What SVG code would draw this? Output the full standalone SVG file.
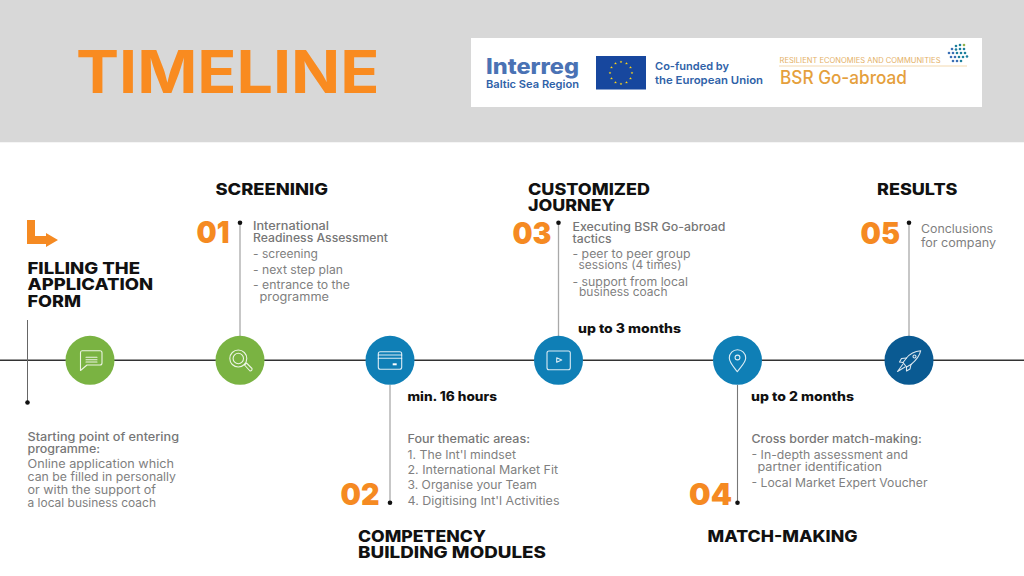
<svg xmlns="http://www.w3.org/2000/svg" xmlns:xlink="http://www.w3.org/1999/xlink" width="1024" height="576" viewBox="0 0 1024 576">
<style>
text{font-family:"Inter","Open Sans","Liberation Sans",sans-serif}
.h{font-size:16px;font-weight:800;fill:#111}
.num{font-size:30px;font-weight:900;fill:#f58a22}
.lead{font-size:11.5px;font-weight:500;fill:#767676}
.b{font-size:11.5px;font-weight:400;fill:#7f7f7f}
.dur{font-size:12.5px;font-weight:800;fill:#111}
.node{stroke:none}
.ic{fill:none;stroke:#fff;stroke-width:1.1;stroke-linejoin:round;stroke-linecap:round;opacity:.85}
.v{stroke:#a9a9a9;stroke-width:1.3;fill:none}
.dot{fill:#111}
.lg{font-weight:600;fill:#2f62a8}
.pd{fill:#1c7f9c}
.pe{fill:#3a6fb5}
</style>
<defs>
<polygon id="star" points="0,-1.4 .4,-.45 1.35,-.45 .6,.15 .85,1.1 0,.55 -.85,1.1 -.6,.15 -1.35,-.45 -.4,-.45" fill="#ffd617"/>
</defs>
<rect x="0" y="0" width="1024" height="142.5" fill="#d8d8d8"/>
<rect x="0" y="142.5" width="1024" height="433.5" fill="#fff"/>
<text id="title" x="76" y="93.3" font-size="58.5" font-weight="700" fill="#f98b20" textLength="303.5" lengthAdjust="spacingAndGlyphs">TIMELINE</text>

<g id="logos">
<rect x="471" y="38" width="511" height="69" fill="#fff"/>
<text x="486" y="74" font-size="21" font-weight="800" fill="#4a72b4" textLength="93" lengthAdjust="spacingAndGlyphs">Interreg</text>
<text class="lg" x="486" y="87.5" font-size="10.5" font-weight="700" textLength="93" lengthAdjust="spacingAndGlyphs">Baltic Sea Region</text>
<rect x="596" y="56" width="50" height="33.5" fill="#17479e"/>
<g>
<use href="#star" x="621" y="62"/><use href="#star" x="626.5" y="63.5"/><use href="#star" x="630.5" y="67.5"/><use href="#star" x="632" y="73"/><use href="#star" x="630.5" y="78.5"/><use href="#star" x="626.5" y="82.5"/><use href="#star" x="621" y="84"/><use href="#star" x="615.5" y="82.5"/><use href="#star" x="611.5" y="78.5"/><use href="#star" x="610" y="73"/><use href="#star" x="611.5" y="67.5"/><use href="#star" x="615.5" y="63.5"/>
</g>
<text class="lg" x="655" y="70" font-size="11" textLength="74" lengthAdjust="spacingAndGlyphs">Co-funded by</text>
<text class="lg" x="655" y="84" font-size="11" textLength="108" lengthAdjust="spacingAndGlyphs">the European Union</text>
<text x="779.5" y="62.5" font-size="7" fill="#e4b066" textLength="161" lengthAdjust="spacingAndGlyphs">RESILIENT ECONOMIES AND COMMUNITIES</text>
<line x1="779" y1="66" x2="967" y2="66" stroke="#f0cf9c" stroke-width=".8"/>
<text x="780" y="84" font-size="18" font-weight="500" fill="#e5a03c" textLength="127" lengthAdjust="spacingAndGlyphs">BSR Go-abroad</text>
<g>
<circle class="pd" cx="956" cy="46" r="1.3"/><circle class="pd" cx="960" cy="45" r="1.3"/><circle cx="964" cy="45" r="1.3" fill="#8fb04a"/>
<circle class="pe" cx="952" cy="49" r="1.3"/><circle class="pd" cx="956" cy="49.5" r="1.3"/><circle class="pd" cx="960" cy="49" r="1.3"/><circle class="pd" cx="964" cy="49" r="1.3"/>
<circle class="pe" cx="949" cy="53" r="1.3"/><circle class="pe" cx="953" cy="53" r="1.3"/><circle class="pd" cx="957" cy="53" r="1.3"/><circle class="pd" cx="961" cy="53" r="1.3"/><circle class="pd" cx="965" cy="53" r="1.3"/>
<circle class="pe" cx="951" cy="57" r="1.3"/><circle class="pe" cx="955" cy="57" r="1.3"/><circle class="pd" cx="959" cy="57" r="1.3"/><circle class="pd" cx="963" cy="57" r="1.3"/><circle class="pd" cx="967" cy="56.5" r="1.3"/>
<circle class="pe" cx="953" cy="61" r="1.3"/><circle class="pe" cx="957" cy="61" r="1.3"/><circle class="pd" cx="961" cy="61" r="1.3"/>
</g>
</g>

<g id="connectors">
<line x1="0" y1="360.3" x2="1024" y2="360.3" stroke="#333" stroke-width="1.4"/>
<line x1="27.5" y1="320" x2="27.5" y2="402" stroke="#666" stroke-width="1"/>
<circle class="dot" cx="27.5" cy="402.5" r="2.3"/>
<line class="v" x1="240" y1="223" x2="240" y2="336"/>
<circle class="dot" cx="240" cy="222.7" r="2.3"/>
<line class="v" x1="390" y1="385" x2="390" y2="503"/>
<circle class="dot" cx="390" cy="502.8" r="2.3"/>
<line class="v" x1="558.5" y1="223" x2="558.5" y2="336"/>
<circle class="dot" cx="558.5" cy="222.7" r="2.3"/>
<line x1="737.5" y1="385" x2="737.5" y2="503" stroke="#777" stroke-width="1.1"/>
<circle class="dot" cx="737.5" cy="502.8" r="2.3"/>
<line class="v" x1="909" y1="223" x2="909" y2="336"/>
<circle class="dot" cx="909" cy="222.7" r="2.3"/>
</g>

<g id="step-start">
<path d="M27 220H35V236H46V233L58 240L46 247V244H27Z" fill="#f58a22"/>
<text class="h" x="27.5" y="273.5" textLength="112.5" lengthAdjust="spacingAndGlyphs">FILLING THE</text>
<text class="h" x="27.5" y="290" textLength="125.5" lengthAdjust="spacingAndGlyphs">APPLICATION</text>
<text class="h" x="27.5" y="306.7" textLength="53.5" lengthAdjust="spacingAndGlyphs">FORM</text>
<circle class="node" cx="90" cy="360.3" r="24.5" fill="#7ab342"/>
<path class="ic" d="M82 350.7H100Q102 350.7 102 352.7V363Q102 365 100 365H87L80.5 370.5V352.7Q80.5 350.7 82 350.7Z"/>
<path class="ic" d="M86 357.3H97M86 359.7H97M86 362H97"/>
<text class="lead" x="27.5" y="441.3" textLength="151.5" lengthAdjust="spacingAndGlyphs">Starting point of entering</text>
<text class="lead" x="27.5" y="452.7" textLength="72.5" lengthAdjust="spacingAndGlyphs">programme:</text>
<text class="b" x="27.5" y="468" textLength="146.5" lengthAdjust="spacingAndGlyphs">Online application which</text>
<text class="b" x="27.5" y="481" textLength="148.5" lengthAdjust="spacingAndGlyphs">can be filled in personally</text>
<text class="b" x="27.5" y="494" textLength="128.5" lengthAdjust="spacingAndGlyphs">or with the support of</text>
<text class="b" x="27.5" y="506.7" textLength="128.5" lengthAdjust="spacingAndGlyphs">a local business coach</text>
</g>

<g id="step-01">
<text class="h" x="215.5" y="194.7" textLength="112.5" lengthAdjust="spacingAndGlyphs">SCREENINIG</text>
<text class="num" x="196.5" y="243" textLength="33" lengthAdjust="spacingAndGlyphs">01</text>
<circle class="node" cx="240" cy="360.3" r="24.5" fill="#7ab342"/>
<circle class="ic" cx="238.3" cy="358.5" r="8.5"/>
<circle class="ic" cx="238.3" cy="358.5" r="5.2"/>
<path class="ic" d="M244.5 365L246.5 363L252 368.5Q252.5 370.5 250 371Z"/>
<text class="lead" x="253" y="230" textLength="76" lengthAdjust="spacingAndGlyphs">International</text>
<text class="lead" x="253" y="242" textLength="135" lengthAdjust="spacingAndGlyphs">Readiness Assessment</text>
<text class="b" x="253" y="258" textLength="65" lengthAdjust="spacingAndGlyphs">- screening</text>
<text class="b" x="253" y="273.7" textLength="90" lengthAdjust="spacingAndGlyphs">- next step plan</text>
<text class="b" x="253" y="289" textLength="97" lengthAdjust="spacingAndGlyphs">- entrance to the</text>
<text class="b" x="259.5" y="300.5" textLength="69.5" lengthAdjust="spacingAndGlyphs">programme</text>
</g>

<g id="step-02">
<circle class="node" cx="390" cy="360.3" r="24.5" fill="#0f7fb6"/>
<rect class="ic" x="378.3" y="351.7" width="23.4" height="17.5" rx="2"/>
<path class="ic" d="M378.3 355H401.7M378.3 358.3H401.7"/>
<rect x="392.7" y="363.3" width="4" height="2" fill="#fff"/>
<text class="dur" x="407.5" y="400.7" textLength="89.5" lengthAdjust="spacingAndGlyphs">min. 16 hours</text>
<text class="lead" x="407.5" y="443.3" textLength="122.5" lengthAdjust="spacingAndGlyphs">Four thematic areas:</text>
<text class="b" x="407.5" y="458.7" textLength="108.5" lengthAdjust="spacingAndGlyphs">1. The Int'l mindset</text>
<text class="b" x="407.5" y="474" textLength="150.5" lengthAdjust="spacingAndGlyphs">2. International Market Fit</text>
<text class="b" x="407.5" y="489.3" textLength="129.5" lengthAdjust="spacingAndGlyphs">3. Organise your Team</text>
<text class="b" x="407.5" y="504.7" textLength="152" lengthAdjust="spacingAndGlyphs">4. Digitising Int'l Activities</text>
<text class="num" x="340.5" y="505" textLength="39" lengthAdjust="spacingAndGlyphs">02</text>
<text class="h" x="358" y="541.7" textLength="128" lengthAdjust="spacingAndGlyphs">COMPETENCY</text>
<text class="h" x="358" y="558.3" textLength="188" lengthAdjust="spacingAndGlyphs">BUILDING MODULES</text>
</g>

<g id="step-03">
<text class="h" x="528" y="194.7" textLength="122" lengthAdjust="spacingAndGlyphs">CUSTOMIZED</text>
<text class="h" x="528" y="211.4" textLength="87" lengthAdjust="spacingAndGlyphs">JOURNEY</text>
<text class="num" x="512.5" y="243.5" textLength="39" lengthAdjust="spacingAndGlyphs">03</text>
<circle class="node" cx="558.5" cy="360.3" r="24.5" fill="#0f7fb6"/>
<rect class="ic" x="547" y="351" width="23.3" height="18.7" rx="2"/>
<path class="ic" d="M556.7 357.7L561.7 360L556.7 362.3Z"/>
<text class="lead" x="572.5" y="231" textLength="153" lengthAdjust="spacingAndGlyphs">Executing BSR Go-abroad</text>
<text class="lead" x="572.5" y="242.5" textLength="39" lengthAdjust="spacingAndGlyphs">tactics</text>
<text class="b" x="572.5" y="257.5" textLength="118" lengthAdjust="spacingAndGlyphs">- peer to peer group</text>
<text class="b" x="578.5" y="269" textLength="103" lengthAdjust="spacingAndGlyphs">sessions (4 times)</text>
<text class="b" x="572.5" y="285.6" textLength="115.5" lengthAdjust="spacingAndGlyphs">- support from local</text>
<text class="b" x="579" y="296.4" textLength="88.5" lengthAdjust="spacingAndGlyphs">business coach</text>
<text class="dur" x="578" y="333" textLength="103" lengthAdjust="spacingAndGlyphs">up to 3 months</text>
</g>

<g id="step-04">
<circle class="node" cx="737.5" cy="360.3" r="24.5" fill="#0f7fb6"/>
<path class="ic" d="M737.3 371.7C733.5 366.5 729.3 362.5 729.3 358A8.2 8.2 0 0 1 745.7 358C745.7 362.5 741 366.5 737.3 371.7Z"/>
<circle class="ic" cx="737.5" cy="357.5" r="2.4"/>
<text class="dur" x="751" y="401" textLength="103" lengthAdjust="spacingAndGlyphs">up to 2 months</text>
<text class="lead" x="751.5" y="443.3" textLength="170.2" lengthAdjust="spacingAndGlyphs">Cross border match-making:</text>
<text class="b" x="751.5" y="458.7" textLength="156.5" lengthAdjust="spacingAndGlyphs">- In-depth assessment and</text>
<text class="b" x="757.5" y="471.3" textLength="124.5" lengthAdjust="spacingAndGlyphs">partner identification</text>
<text class="b" x="751.5" y="486.7" textLength="176" lengthAdjust="spacingAndGlyphs">- Local Market Expert Voucher</text>
<text class="num" x="689" y="505" textLength="43" lengthAdjust="spacingAndGlyphs">04</text>
<text class="h" x="707.5" y="541.7" textLength="150" lengthAdjust="spacingAndGlyphs">MATCH-MAKING</text>
</g>

<g id="step-05">
<text class="h" x="877" y="194.7" textLength="80.5" lengthAdjust="spacingAndGlyphs">RESULTS</text>
<text class="num" x="860.5" y="243.5" textLength="39.5" lengthAdjust="spacingAndGlyphs">05</text>
<circle class="node" cx="909" cy="360.3" r="24.5" fill="#0a5a92"/>
<path class="ic" d="M920.7 350.7C915 351.2 910 353.5 906.5 358L903 362.5L906.5 367L911 364.5C916 360.5 919.5 356.5 920.7 350.7Z"/>
<circle class="ic" cx="914.5" cy="356.5" r="1.5"/>
<path class="ic" d="M906.5 358L901.5 358.5L899.5 362L903 362.5M906.5 367L906.5 371L910 369L911 364.5M903 364L897.5 371.5L905 367"/>
<text class="b" x="921" y="233" textLength="72" lengthAdjust="spacingAndGlyphs">Conclusions</text>
<text class="b" x="921" y="247" textLength="75" lengthAdjust="spacingAndGlyphs">for company</text>
</g>
</svg>
